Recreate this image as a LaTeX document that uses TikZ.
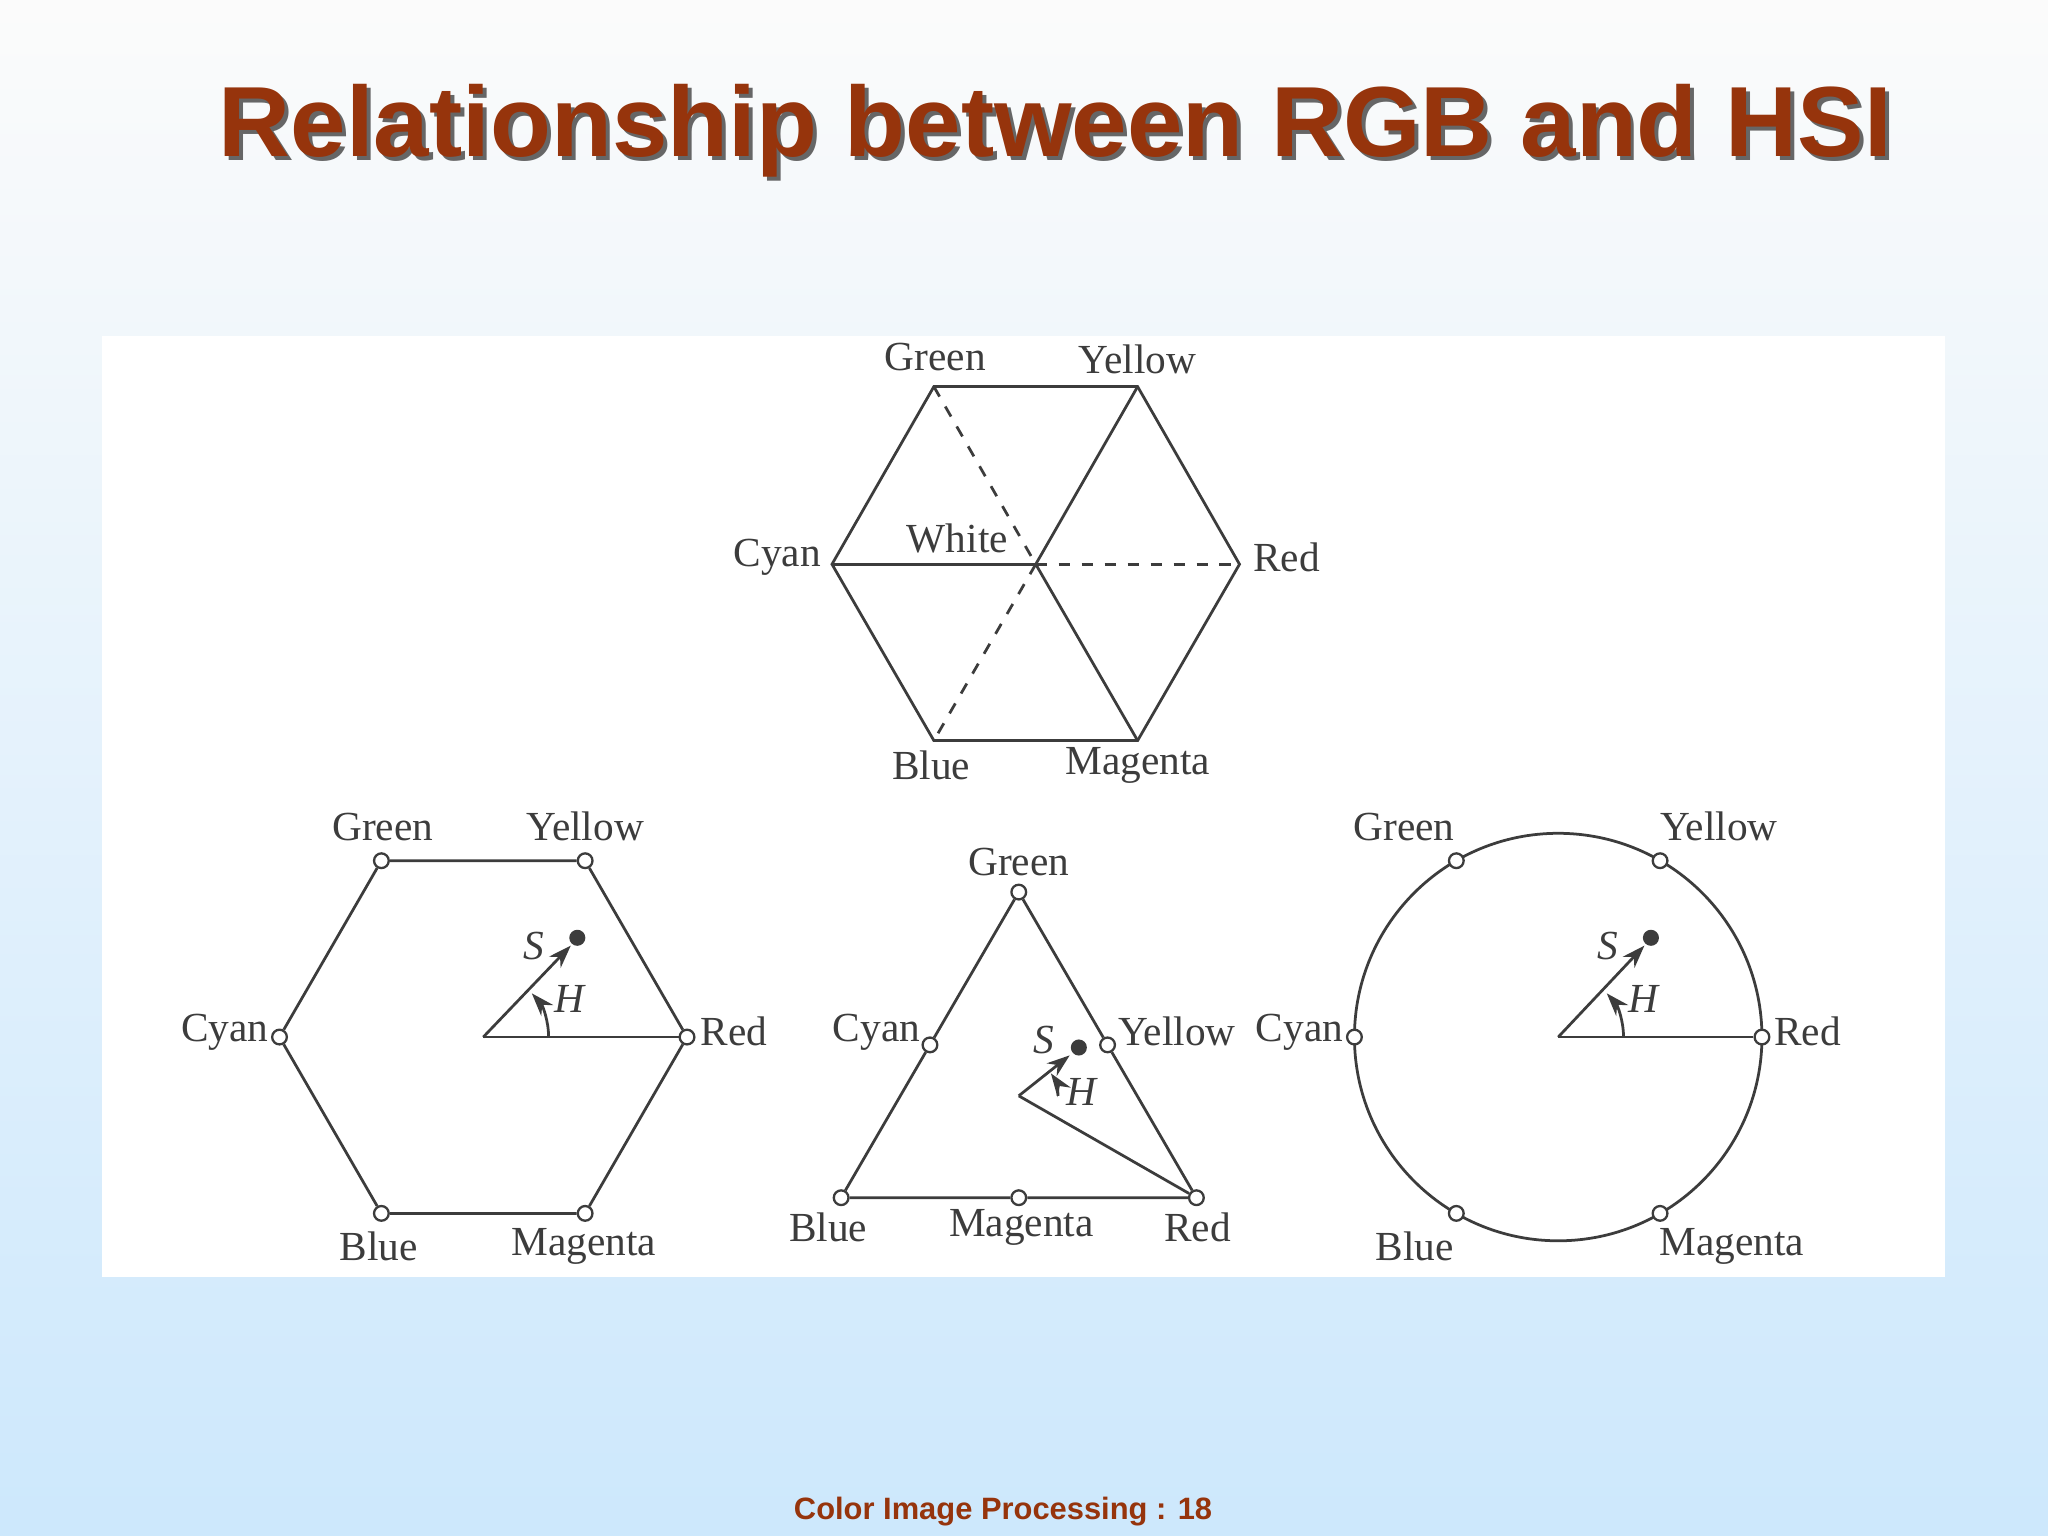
\documentclass[tikz,border=0pt]{standalone}
\usepackage{fontspec}
\usepackage{graphicx}
\setmainfont{Liberation Serif}
\newfontfamily\titlefont{Liberation Sans}
\usetikzlibrary{arrows.meta}
\definecolor{ttl}{RGB}{150,52,12}
\definecolor{bgbot}{RGB}{205,232,252}
\definecolor{ln}{RGB}{60,60,60}
\begin{document}
\begin{tikzpicture}[x=0.01cm,y=-0.01cm,
  lab/.style={font=\fontsize{9pt}{10pt}\selectfont,text=ln,inner sep=1pt},
  ital/.style={font=\fontsize{9pt}{10pt}\selectfont\itshape,text=ln,inner sep=1pt},
  edge/.style={draw=ln,line width=0.6pt},
  dsh/.style={draw=ln,line width=0.6pt,dashed,dash pattern=on 2.5pt off 2.5pt},
  vtx/.style={circle,draw=ln,fill=white,inner sep=0pt,minimum size=3.2pt,line width=0.5pt},
  dot/.style={circle,fill=ln,inner sep=0pt,minimum size=3.5pt},
  arr/.style={draw=ln,line width=0.6pt,-{Stealth[length=5pt,width=3.5pt]}}]
\useasboundingbox (0,0) rectangle (1568,1176);
\shade[top color=white!97!gray,bottom color=bgbot] (0,0) rectangle (1568,1176);
\fill[white] (78,257) rectangle (1489,978);
% title
\node[text=black!60,font=\titlefont\bfseries] at (811,103) {\resizebox{12.8cm}{!}{Relationship between RGB and HSI}};
\node (title) [text=ttl,font=\titlefont\bfseries] at (808,100) {\resizebox{12.8cm}{!}{Relationship between RGB and HSI}};
\node (foot) [text=ttl,font=\titlefont\bfseries] at (768,1157) {\resizebox{3.2cm}{!}{Color Image Processing : 18}};
% top hexagon
\coordinate (tW) at (793,432);
\coordinate (tR) at (949,432); \coordinate (tY) at (871,296); \coordinate (tG) at (715,296);
\coordinate (tC) at (637,432); \coordinate (tB) at (715,567); \coordinate (tM) at (871,567);
\draw[edge] (tR)--(tY)--(tG)--(tC)--(tB)--(tM)--cycle;
\draw[edge] (tC)--(tW); \draw[edge] (tY)--(tW)--(tM);
\draw[dsh] (tG)--(tW); \draw[dsh] (tW)--(tR); \draw[dsh] (tW)--(tB);
\node[lab] at (716,273) {Green}; \node[lab] at (871,275) {Yellow};
\node[lab] at (595,427) {Cyan}; \node[lab] at (985,427) {Red};
\node[lab] at (733,412) {White}; \node[lab] at (713,586) {Blue}; \node[lab] at (871,586) {Magenta};
% bottom-left hexagon
\coordinate (hO) at (370,794);
\node[vtx] (hR) at (526,794) {}; \node[vtx] (hY) at (448,659) {}; \node[vtx] (hG) at (292,659) {};
\node[vtx] (hC) at (214,794) {}; \node[vtx] (hB) at (292,929) {}; \node[vtx] (hM) at (448,929) {};
\draw[edge] (hR)--(hY)--(hG)--(hC)--(hB)--(hM)--(hR);
\draw[edge] (hO)--(hR);
\node[dot] (hS) at (442,718) {};
\draw[arr] (hO)--(437,724);
\draw[arr] ([xshift=0.5cm]hO) arc[start angle=0,end angle=-42,radius=50];
\node[ital] at (409,724) {S}; \node[ital] at (436,765) {H};
\node[lab] at (293,633) {Green}; \node[lab] at (448,633) {Yellow};
\node[lab] at (172,790) {Cyan}; \node[lab] at (562,790) {Red};
\node[lab] at (290,954) {Blue}; \node[lab] at (447,954) {Magenta};
% triangle
\coordinate (tO) at (780,839);
\node[vtx] (aG) at (780,683) {}; \node[vtx] (aB) at (644,917) {}; \node[vtx] (aR) at (916,917) {};
\node[vtx] (aC) at (712,800) {}; \node[vtx] (aY) at (848,800) {}; \node[vtx] (aM) at (780,917) {};
\draw[edge] (aG)--(aC)--(aB)--(aM)--(aR)--(aY)--(aG);
\draw[edge] (tO)--(aR);
\node[dot] (aS) at (826,802) {};
\draw[arr] (tO)--(819,808);
\draw[arr] ([xshift=0.3cm]tO) arc[start angle=0,end angle=-35,radius=30];
\node[ital] at (799,796) {S}; \node[ital] at (828,836) {H};
\node[lab] at (780,660) {Green}; \node[lab] at (671,790) {Cyan}; \node[lab] at (901,790) {Yellow};
\node[lab] at (634,940) {Blue}; \node[lab] at (782,940) {Magenta}; \node[lab] at (917,940) {Red};
% circle
\coordinate (cO) at (1193,794);
\draw[edge] (cO) circle[radius=156];
\node[vtx] (cR) at (1349,794) {}; \node[vtx] (cY) at (1271,659) {}; \node[vtx] (cG) at (1115,659) {};
\node[vtx] (cC) at (1037,794) {}; \node[vtx] (cB) at (1115,929) {}; \node[vtx] (cM) at (1271,929) {};
\draw[edge] (cO)--(cR);
\node[dot] (cS) at (1264,718) {};
\draw[arr] (cO)--(1259,724);
\draw[arr] ([xshift=0.5cm]cO) arc[start angle=0,end angle=-42,radius=50];
\node[ital] at (1231,724) {S}; \node[ital] at (1258,765) {H};
\node[lab] at (1075,633) {Green}; \node[lab] at (1316,633) {Yellow};
\node[lab] at (995,790) {Cyan}; \node[lab] at (1384,790) {Red};
\node[lab] at (1083,954) {Blue}; \node[lab] at (1326,954) {Magenta};
\end{tikzpicture}
\end{document}
